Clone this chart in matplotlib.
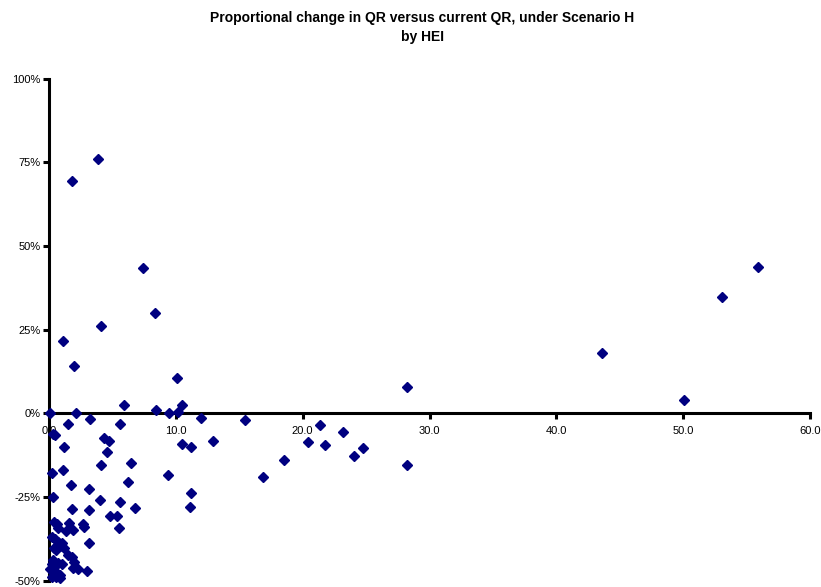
import matplotlib
matplotlib.use("Agg")
import matplotlib.pyplot as plt
from matplotlib.ticker import FixedLocator, FuncFormatter

plt.rcParams["font.family"] = ["Liberation Sans", "DejaVu Sans"]
plt.rcParams["axes.unicode_minus"] = False

# Current QR (x) and proportional change in QR under Scenario H (y, percent), one entry per HEI
qr_current = [
    3.84, 1.82, 7.42, 8.39, 4.10, 1.08, 1.95, 10.08, 43.6, 50.1, 53.1, 55.9, 28.2,
    5.9, 10.5, 8.4, 9.45, 10.2, 0.05, 2.15, 1.5, 3.27, 5.56, 12.0, 15.45, 21.4, 23.15,
    10.45, 11.23, 12.92, 20.4, 21.76, 24.78, 24.07, 18.55, 28.2, 16.89, 11.2, 11.13,
    6.76, 6.45, 9.35,
    4.34, 4.71, 4.58, 4.10, 6.26, 3.15, 4.05, 5.6, 3.13, 4.84, 5.34, 2.66, 2.79,
    5.5, 3.18, 3.02,
    0.3, 0.47, 1.18, 0.27, 1.07, 1.71, 0.3, 1.82, 0.4, 0.62, 0.72, 1.6, 1.34, 1.87,
    0.2, 0.47, 0.73, 1.03, 0.87, 1.18, 0.42, 0.55, 1.53, 1.79, 1.95, 1.92, 2.31,
    0.34, 0.2, 0.47, 0.73, 1.0, 0.34, 0.6, 0.87, 0.2, 0.87, 0.1, 0.55,
]
qr_change_pct = [
    75.9, 69.5, 43.5, 30.1, 26.0, 21.7, 14.2, 10.5, 18.0, 4.1, 34.6, 43.8, 7.8,
    2.4, 2.5, 1.1, 0.1, 0.3, 0.0, 0.0, -3.1, -1.6, -3.2, -1.4, -1.9, -3.5, -5.6,
    -9.3, -10.0, -8.3, -8.7, -9.6, -10.5, -12.7, -13.9, -15.5, -18.9, -23.7, -28.0,
    -28.3, -15.0, -18.4,
    -7.3, -8.4, -11.5, -15.6, -20.5, -22.5, -25.9, -26.6, -28.9, -30.7, -30.6, -33.1, -33.9,
    -34.4, -38.7, -47.2,
    -6.3, -6.6, -10.0, -17.7, -17.0, -21.3, -24.9, -28.7, -32.6, -33.2, -34.3, -32.8, -35.3, -34.8,
    -37.1, -37.7, -38.4, -38.8, -39.6, -40.2, -40.3, -40.9, -42.4, -43.0, -44.3, -46.3, -46.4,
    -43.8, -45.1, -45.6, -44.6, -45.1, -47.3, -47.8, -48.3, -48.8, -49.3, -46.5, -49.0,
]

x_ticks = [0, 10, 20, 30, 40, 50, 60]
y_ticks = [-50, -25, 0, 25, 50, 75, 100]

title_text = "Proportional change in QR versus current QR, under Scenario H\nby HEI"

W, H = 821, 587
fig = plt.figure(figsize=(W / 100, H / 100), dpi=100)
ax = fig.add_axes([49 / W, 6.4 / H, 761 / W, 502 / H])

ax.plot(qr_current, qr_change_pct, linestyle="none", marker="D",
        markersize=4.6, color="#000080", markeredgecolor="#000080",
        clip_on=False, zorder=3)

ax.set_xlim(0, 60)
ax.set_ylim(-50, 100)

for side in ("top", "right"):
    ax.spines[side].set_visible(False)
ax.spines["left"].set_position(("data", 0))
ax.spines["bottom"].set_position(("data", 0))
for side in ("left", "bottom"):
    ax.spines[side].set_linewidth(2.2)
    ax.spines[side].set_zorder(2)

ax.xaxis.set_major_locator(FixedLocator(x_ticks))
ax.yaxis.set_major_locator(FixedLocator(y_ticks))
ax.xaxis.set_major_formatter(FuncFormatter(lambda v, p: f"{v:.1f}"))
ax.yaxis.set_major_formatter(FuncFormatter(lambda v, p: f"{v:.0f}%"))

ax.tick_params(axis="both", direction="out", length=4, width=2.2,
               labelsize=8, colors="black")
ax.tick_params(axis="x", pad=5)
ax.tick_params(axis="y", pad=2)

fig.text(422 / W, 1 - 11 / H, title_text, ha="center", va="top",
         fontsize=10, fontweight="bold", linespacing=1.5)

fig.savefig("out.png", dpi=100)
